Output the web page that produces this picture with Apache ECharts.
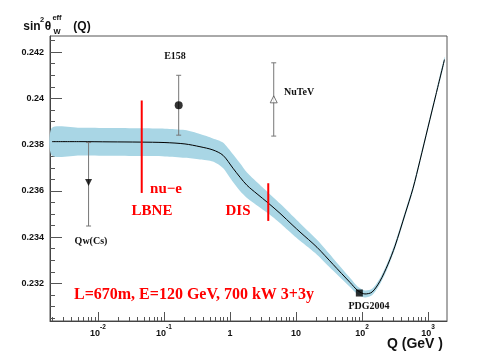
<!DOCTYPE html>
<html>
<head>
<meta charset="utf-8">
<script src="https://cdn.jsdelivr.net/npm/echarts@6/dist/echarts.min.js"></script>
<style>
html, body { margin: 0; padding: 0; background: #fff; }
#main { width: 498px; height: 358px; }
</style>
</head>
<body>
<div id="main"></div>
<script>
// running sin^2(theta_W) curve (Q in GeV)
var curveQ = [0.00201, 0.00533, 0.0152, 0.0433, 0.1035, 0.208, 0.351, 0.552, 0.783, 1.11,
    1.42, 1.81, 2.57, 3.77, 5.72, 9.0, 11.5, 20.8, 36.4, 65.8,
    86.9, 111, 142, 187, 248, 316, 449, 593, 757, 1000, 1321, 1778];
var curveValue = [0.23813, 0.23813, 0.23812, 0.23811, 0.23809, 0.23803, 0.23791, 0.23777, 0.23754, 0.23698,
    0.23659, 0.23624, 0.23587, 0.23548, 0.23503, 0.23450, 0.23422, 0.23356, 0.23282, 0.23204,
    0.23168, 0.23154, 0.23162, 0.23209, 0.23283, 0.23361, 0.23499, 0.23611, 0.23732, 0.23875, 0.24017, 0.24168];
var curveHalfWidth = [0.0006, 0.0006, 0.0006, 0.0006, 0.0006, 0.0006, 0.00055, 0.0005, 0.00055, 0.0006,
    0.0006, 0.00055, 0.0005, 0.00045, 0.00042, 0.0004, 0.00038, 0.00032, 0.00027, 0.0002,
    0.00017, 0.00015, 0.00014, 0.00013, 0.00013, 0.00013, 0.00012, 0.00012, 0.00012, 0.00012, 0.00012, 0.00012];

// measurements
var pointNames = ['Qw(Cs)', 'E158', 'NuTeV', 'PDG2004'];
var pointQ = [0.0072, 0.167, 4.6, 91.2];
var pointValue = [0.23636, 0.2397, 0.23996, 0.23158];
var pointLow = [0.23448, 0.23841, 0.23837, null];
var pointHigh = [0.23809, 0.2410, 0.24154, null];

// LBNE projections (nu-e, DIS)
var lbneQ = [0.046, 3.8];
var lbneLow = [0.23591, 0.2347];
var lbneHigh = [0.23991, 0.23633];

var xMajorTicks = [-2, -1, 0, 1, 2, 3];
var yMajorTicks = [0.232, 0.234, 0.236, 0.238, 0.24, 0.242];

var lg = function(v) { return Math.log10(v); };

var xMinorTicks = [];
for (var n = -3; n <= 3; n++) {
    for (var k = 2; k <= 9; k++) xMinorTicks.push(lg(k) + n);
}
var yMinorTicks = [];
for (var i = 461; i <= 485; i++) {
    if (i % 4 != 0) yMinorTicks.push(i * 5 / 10000);
}

var band = [], centre = [];
for (var j = 0; j < curveQ.length; j++) {
    band.push([lg(curveQ[j]), curveValue[j] - curveHalfWidth[j], curveValue[j] + curveHalfWidth[j]]);
    centre.push([lg(curveQ[j]), curveValue[j]]);
}
var greyBars = [], marks = [[], [], [], []];
for (var p = 0; p < pointNames.length; p++) {
    if (pointLow[p] != null) greyBars.push([lg(pointQ[p]), pointLow[p], pointHigh[p]]);
    marks[p].push([lg(pointQ[p]), pointValue[p]]);
}
var redBars = [];
for (var r = 0; r < lbneQ.length; r++) redBars.push([lg(lbneQ[r]), lbneLow[r], lbneHigh[r]]);

// whole error band as one polygon, drawn once
var bandItem = function(params, api) {
    if (params.dataIndex !== 0) return null;
    var upper = [], lower = [];
    for (var m = 0; m < band.length; m++) {
        upper.push(api.coord([band[m][0], band[m][2]]));
        lower.unshift(api.coord([band[m][0], band[m][1]]));
    }
    return {
        type: 'polygon', shape: { points: upper.concat(lower), smooth: 0.25 },
        style: { fill: '#a9d6e5', stroke: null }
    };
};

var errorBar = function(cap, width, color) {
    return function(params, api) {
        var x = api.value(0);
        var top = api.coord([x, api.value(2)]);
        var bot = api.coord([x, api.value(1)]);
        var kids = [{ type: 'line', shape: { x1: top[0], y1: top[1], x2: bot[0], y2: bot[1] },
            style: { stroke: color, lineWidth: width } }];
        if (cap > 0) {
            kids.push({ type: 'line', shape: { x1: top[0] - cap, y1: top[1], x2: top[0] + cap, y2: top[1] }, style: { stroke: color, lineWidth: 1 } });
            kids.push({ type: 'line', shape: { x1: bot[0] - cap, y1: bot[1], x2: bot[0] + cap, y2: bot[1] }, style: { stroke: color, lineWidth: 1 } });
        }
        return { type: 'group', children: kids };
    };
};

var serif = 'Liberation Serif';
var sans = 'Liberation Sans';
var txt = function(x, y, s, size, color, family, align) {
    return { type: 'text', x: x, y: y, z: 100, style: { text: s, fontSize: size, fontWeight: 'bold', fontFamily: family,
        fill: color, align: align || 'center', verticalAlign: 'middle' } };
};

var myChart = echarts.init(document.getElementById('main'));
var xMin = -2.727, xMax = 3.288, yMin = 0.23037, yMax = 0.2427;

var option = {
    animation: false,
    grid: { left: 50, right: 51, top: 36, bottom: 37, show: true, borderColor: '#555', borderWidth: 1 },
    xAxis: [{
        type: 'value', min: xMin, max: xMax,
        axisLine: { show: true, onZero: false, lineStyle: { color: '#444' } },
        axisTick: { inside: true, length: 9, customValues: xMajorTicks, lineStyle: { color: '#555' } },
        axisLabel: {
            customValues: xMajorTicks, margin: 3,
            formatter: function(v) {
                var e = Math.round(v);
                if (e == 0) return '{b|1}';
                if (e == 1) return '{b|10}';
                return '{b|10}{s|' + e + '}';
            },
            rich: {
                b: { fontSize: 9, fontFamily: sans, fontWeight: 'bold', color: '#111', lineHeight: 14, verticalAlign: 'bottom' },
                s: { fontSize: 6.5, fontFamily: sans, fontWeight: 'bold', color: '#111', lineHeight: 14, verticalAlign: 'top' }
            }
        },
        splitLine: { show: false }
    }, {
        type: 'value', min: xMin, max: xMax, position: 'bottom', offset: 0,
        axisLine: { show: false, onZero: false },
        axisTick: { inside: true, length: 4, customValues: xMinorTicks, lineStyle: { color: '#555' } },
        axisLabel: { show: false },
        splitLine: { show: false }
    }],
    yAxis: [{
        type: 'value', min: yMin, max: yMax,
        axisLine: { show: true, onZero: false, lineStyle: { color: '#444' } },
        axisTick: { inside: true, length: 12, customValues: yMajorTicks, lineStyle: { color: '#555' } },
        axisLabel: {
            customValues: yMajorTicks, margin: 6, fontSize: 9, fontFamily: sans, fontWeight: 'bold', color: '#111',
            formatter: function(v) { return String(+v.toFixed(3)); }
        },
        splitLine: { show: false }
    }, {
        type: 'value', min: yMin, max: yMax, position: 'left', offset: 0,
        axisLine: { show: false, onZero: false },
        axisTick: { inside: true, length: 5, customValues: yMinorTicks, lineStyle: { color: '#555' } },
        axisLabel: { show: false },
        splitLine: { show: false }
    }],
    series: [
        { type: 'custom', data: band, renderItem: bandItem, encode: { x: 0, y: [1, 2] }, silent: true, z: 1 },
        { type: 'line', data: centre, symbol: 'none', smooth: 0.3,
          lineStyle: { color: '#000', width: 1 }, z: 3 },
        { type: 'custom', data: greyBars, renderItem: errorBar(2.5, 1, '#777'), encode: { x: 0, y: [1, 2] }, z: 4 },
        { type: 'scatter', data: marks[0], symbol: 'triangle', symbolRotate: 180, symbolSize: 7,
          itemStyle: { color: '#000' }, z: 5 },
        { type: 'scatter', data: marks[1], symbol: 'circle', symbolSize: 8,
          itemStyle: { color: '#000' }, z: 5 },
        { type: 'scatter', data: marks[2], symbol: 'triangle', symbolSize: 7,
          itemStyle: { color: '#fff', borderColor: '#555', borderWidth: 1 }, z: 5 },
        { type: 'scatter', data: marks[3], symbol: 'rect', symbolSize: 7,
          itemStyle: { color: '#000' }, z: 5 },
        { type: 'custom', data: redBars, renderItem: errorBar(0, 2, '#ff0000'), encode: { x: 0, y: [1, 2] }, z: 6 }
    ],
    graphic: [
        txt(32, 27, 'sin', 12, '#111', sans),
        txt(42, 20, '2', 7.5, '#111', sans),
        txt(48, 27, 'θ', 12, '#111', sans),
        txt(57, 18, 'eff', 7.5, '#111', sans),
        txt(57, 32, 'W', 7.5, '#111', sans),
        txt(82, 27, '(Q)', 12, '#111', sans),
        txt(443, 344, 'Q (GeV )', 14, '#111', sans, 'right'),
        txt(175, 56, 'E158', 10, '#111', serif),
        txt(284, 92, 'NuTeV', 10, '#111', serif, 'left'),
        txt(91, 241.5, 'Qw(Cs)', 10, '#111', serif),
        txt(369, 306, 'PDG2004', 10, '#111', serif),
        txt(166, 189, 'nu−e', 15, '#ff0000', serif),
        txt(152, 211.5, 'LBNE', 15, '#ff0000', serif),
        txt(238, 211.5, 'DIS', 15, '#ff0000', serif),
        txt(74, 295, 'L=670m, E=120 GeV, 700 kW 3+3y', 16, '#ff0000', serif, 'left')
    ]
};
myChart.setOption(option);
</script>
</body>
</html>
